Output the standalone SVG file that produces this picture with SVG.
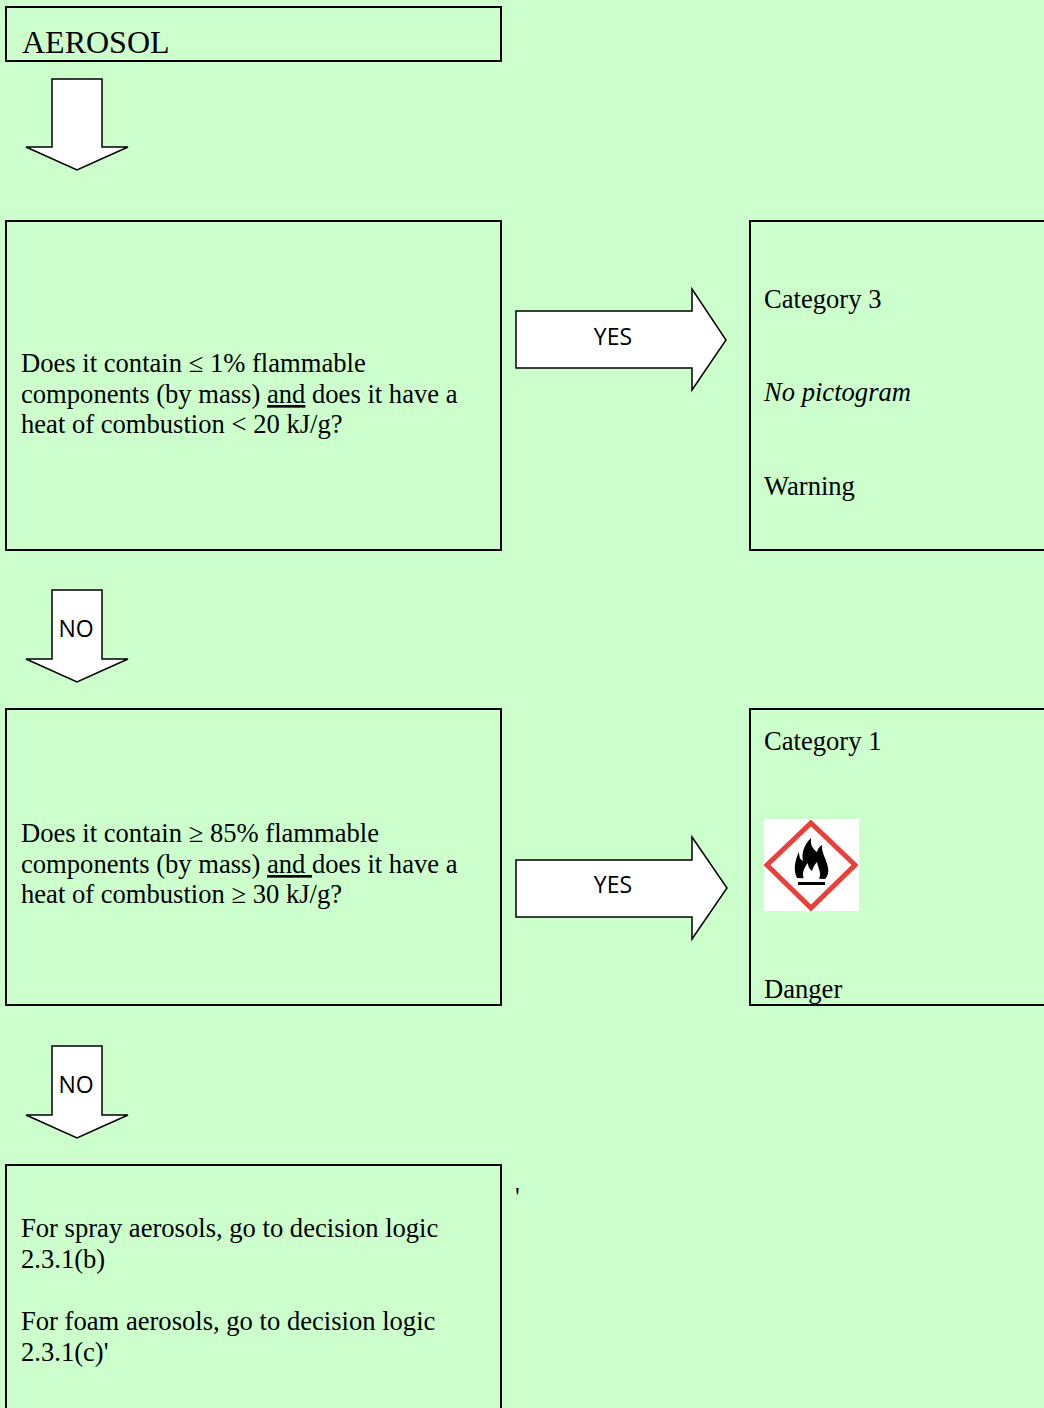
<svg xmlns="http://www.w3.org/2000/svg" width="1044" height="1408" viewBox="0 0 1044 1408">
<style>
.box{fill:none;stroke:#000;stroke-width:2}
.arr{fill:#fff;stroke:#000;stroke-width:1.5;stroke-linejoin:miter}
.t{font-family:"Liberation Serif","Times New Roman",serif;font-size:26.6px;fill:#000}
.lbl{font-family:"Open Sans","Liberation Sans",Arial,sans-serif;font-size:23px;fill:#000;text-anchor:middle}
</style>
<rect x="0" y="0" width="1044" height="1408" fill="#CCFFCC"/>

<g id="aerosol">
<rect class="box" x="6" y="7" width="495" height="54"/>
<text class="t" x="22" y="53" style="font-size:32px">AEROSOL</text>
</g>

<g id="q1">
<rect class="box" x="6" y="221" width="495" height="329"/>
<text class="t" x="21" y="372">Does it contain ≤ 1% flammable</text>
<text class="t" x="21" y="403">components (by mass) <tspan text-decoration="underline">and</tspan> does it have a</text>
<text class="t" x="21" y="433">heat of combustion &lt; 20 kJ/g?</text>
</g>

<g id="cat3">
<path class="box" d="M1046 221 H750 V550 H1046"/>
<text class="t" x="764" y="308">Category 3</text>
<text class="t" x="764" y="401" font-style="italic">No pictogram</text>
<text class="t" x="764" y="495">Warning</text>
</g>

<g id="q2">
<rect class="box" x="6" y="709" width="495" height="296"/>
<text class="t" x="21" y="842">Does it contain ≥ 85% flammable</text>
<text class="t" x="21" y="873">components (by mass) <tspan text-decoration="underline">and </tspan>does it have a</text>
<text class="t" x="21" y="903">heat of combustion ≥ 30 kJ/g?</text>
</g>

<g id="cat1">
<path class="box" d="M1046 709 H750 V1005 H1046"/>
<text class="t" x="764" y="750">Category 1</text>
<g id="pictogram">
<rect x="764" y="819" width="95" height="92" fill="#fff"/>
<polygon points="811,823 855,865 811,908 767,865" fill="#fff" stroke="#E8403A" stroke-width="5"/>
<path d="M797 878 C793 870 795 860 799 852 C799 858 801 860 803 861 C801 852 805 844 811 838 C810 846 814 850 817 852 C818 848 820 846 822 845 C821 852 827 860 828 868 C829 873 827 877 825 879 Z" fill="#000"/>
<path d="M804 879 C801 873 805 866 808 863 C808 868 811 870 812 871 C813 867 815 864 817 862 C818 868 822 873 819 879 Z" fill="#fff"/>
<rect x="798" y="882" width="27" height="3" fill="#000"/>
</g>
<text class="t" x="764" y="998">Danger</text>
</g>

<g id="next">
<path class="box" d="M6 1410 V1165 H501 V1410"/>
<text class="t" x="21" y="1237">For spray aerosols, go to decision logic</text>
<text class="t" x="21" y="1268">2.3.1(b)</text>
<text class="t" x="21" y="1330">For foam aerosols, go to decision logic</text>
<text class="t" x="21" y="1361">2.3.1(c)'</text>
</g>

<text class="t" x="515" y="1206">'</text>

<g id="connectors">
<polygon class="arr" points="52,79 102,79 102,147 128,147 77,170 26,147 52,147"/>
<g>
<polygon class="arr" points="52,590 102,590 102,659 128,659 77,682 26,659 52,659"/>
<text class="lbl" x="76" y="637">NO</text>
</g>
<g>
<polygon class="arr" points="52,1046 102,1046 102,1115 128,1115 77,1138 26,1115 52,1115"/>
<text class="lbl" x="76" y="1093">NO</text>
</g>
<g>
<polygon class="arr" points="516,311 692,311 692,289 726,340 692,390 692,368 516,368"/>
<text class="lbl" x="613" y="345">YES</text>
</g>
<g>
<polygon class="arr" points="516,860 692,860 692,837 727,888 692,939 692,917 516,917"/>
<text class="lbl" x="613" y="893">YES</text>
</g>
</g>
</svg>
